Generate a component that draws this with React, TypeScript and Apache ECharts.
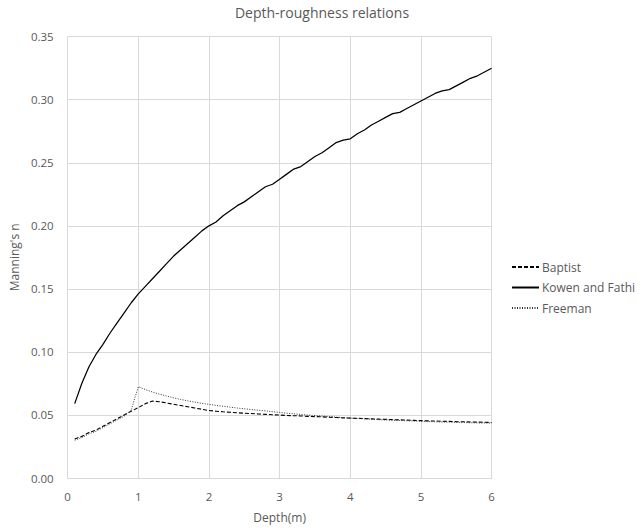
import React, { useEffect, useRef } from "react";
import * as echarts from "echarts";

const depths: number[] = [
  0.1, 0.2, 0.3, 0.4, 0.5, 0.6, 0.7, 0.8, 0.9, 1.0,
  1.1, 1.2, 1.3, 1.4, 1.5, 1.6, 1.7, 1.8, 1.9, 2.0,
  2.1, 2.2, 2.3, 2.4, 2.5, 2.6, 2.7, 2.8, 2.9, 3.0,
  3.1, 3.2, 3.3, 3.4, 3.5, 3.6, 3.7, 3.8, 3.9, 4.0,
  4.1, 4.2, 4.3, 4.4, 4.5, 4.6, 4.7, 4.8, 4.9, 5.0,
  5.1, 5.2, 5.3, 5.4, 5.5, 5.6, 5.7, 5.8, 5.9, 6.0,
];

const baptist: number[] = [
  0.031, 0.033, 0.036, 0.038, 0.041, 0.044, 0.047, 0.050, 0.053, 0.0558,
  0.059, 0.061, 0.0605, 0.0595, 0.0585, 0.0575, 0.0565, 0.0555, 0.0545, 0.0535,
  0.0530, 0.0525, 0.0521, 0.0517, 0.0514, 0.0511, 0.0508, 0.0505, 0.0502, 0.0499,
  0.0496, 0.0494, 0.0492, 0.0489, 0.0487, 0.0485, 0.0482, 0.0480, 0.0477, 0.0475,
  0.0473, 0.0471, 0.0469, 0.0467, 0.0465, 0.0463, 0.0461, 0.0459, 0.0457, 0.0455,
  0.0453, 0.0452, 0.0450, 0.0449, 0.0447, 0.0446, 0.0444, 0.0443, 0.0442, 0.0440,
];

const kowenFathi: number[] = [
  0.059, 0.075, 0.088, 0.098, 0.106, 0.115, 0.123, 0.131, 0.139, 0.146,
  0.152, 0.158, 0.164, 0.170, 0.176, 0.181, 0.186, 0.191, 0.196, 0.200,
  0.203, 0.208, 0.212, 0.216, 0.219, 0.223, 0.227, 0.231, 0.233, 0.237,
  0.241, 0.245, 0.247, 0.251, 0.255, 0.258, 0.262, 0.266, 0.268, 0.269,
  0.273, 0.276, 0.280, 0.283, 0.286, 0.289, 0.290, 0.293, 0.296, 0.299,
  0.302, 0.305, 0.307, 0.308, 0.311, 0.314, 0.317, 0.319, 0.322, 0.325,
];

const freeman: number[] = [
  0.030, 0.032, 0.035, 0.037, 0.040, 0.043, 0.046, 0.049, 0.054, 0.0724,
  0.0702, 0.0682, 0.0665, 0.0650, 0.0636, 0.0623, 0.0612, 0.0602, 0.0592, 0.0584,
  0.0576, 0.0569, 0.0562, 0.0555, 0.0549, 0.0543, 0.0537, 0.0532, 0.0526, 0.0520,
  0.0514, 0.0509, 0.0504, 0.0499, 0.0495, 0.0491, 0.0487, 0.0483, 0.0479, 0.0475,
  0.0472, 0.0469, 0.0466, 0.0463, 0.0460, 0.0458, 0.0456, 0.0454, 0.0452, 0.0450,
  0.0448, 0.0446, 0.0444, 0.0443, 0.0441, 0.0440, 0.0438, 0.0437, 0.0436, 0.0435,
];

const seriesNames = ["Baptist", "Kowen and Fathi", "Freeman"];

const FONT = "'Open Sans', 'Noto Sans', sans-serif";
const TEXT = "#595959";
const GRID = "#d9d9d9";

function pair(vals: number[]): number[][] {
  return depths.map((d, i) => [d, vals[i]]);
}

export default function App() {
  const ref = useRef<HTMLDivElement>(null);
  useEffect(() => {
    if (!ref.current) return;
    const chart = echarts.init(ref.current, undefined, { renderer: "svg" });
    chart.setOption({
      animation: false,
      backgroundColor: "#ffffff",
      textStyle: { fontFamily: FONT },
      title: {
        text: "Depth-roughness relations",
        left: "center",
        top: 0,
        textStyle: { fontFamily: FONT, fontSize: 14, fontWeight: "normal", color: TEXT },
      },
      legend: {
        orient: "vertical",
        left: 506,
        top: 256,
        itemWidth: 27,
        itemHeight: 10,
        itemGap: 8.5,
        itemStyle: { opacity: 0 },
        textStyle: { fontFamily: FONT, fontSize: 12, color: TEXT, padding: [0, 0, 0, -2] },
        data: seriesNames,
      },
      grid: { left: 67.6, right: 152.4, top: 36.7, bottom: 48, containLabel: false },
      xAxis: {
        type: "value",
        min: 0,
        max: 6,
        interval: 1,
        name: "Depth(m)",
        nameLocation: "middle",
        nameGap: 33,
        nameTextStyle: { fontFamily: FONT, fontSize: 12, color: TEXT },
        axisLine: { show: true, lineStyle: { color: GRID, width: 1 } },
        axisTick: { show: false },
        axisLabel: { fontFamily: FONT, fontSize: 11.5, color: TEXT, margin: 12 },
        splitLine: { show: true, lineStyle: { color: GRID, width: 1 } },
      },
      yAxis: {
        type: "value",
        min: 0,
        max: 0.35,
        interval: 0.05,
        name: "Manning's n",
        nameLocation: "middle",
        nameGap: 41,
        nameTextStyle: { fontFamily: FONT, fontSize: 12, color: TEXT },
        axisLine: { show: false },
        axisTick: { show: false },
        axisLabel: {
          fontFamily: FONT,
          fontSize: 11.5,
          color: TEXT,
          margin: 14,
          formatter: (v: number) => v.toFixed(2),
        },
        splitLine: { show: true, lineStyle: { color: GRID, width: 1 } },
      },
      series: [
        {
          name: seriesNames[0],
          type: "line",
          data: pair(baptist),
          showSymbol: false,
          symbol: "none",
          lineStyle: { color: "#000000", width: 1.1, type: [4, 2] },
          itemStyle: { color: "#000000" },
        },
        {
          name: seriesNames[1],
          type: "line",
          data: pair(kowenFathi),
          showSymbol: false,
          symbol: "none",
          lineStyle: { color: "#000000", width: 1.25, type: "solid" },
          itemStyle: { color: "#000000" },
        },
        {
          name: seriesNames[2],
          type: "line",
          data: pair(freeman),
          showSymbol: false,
          symbol: "none",
          lineStyle: { color: "#333333", width: 1, type: [1, 1.5] },
          itemStyle: { color: "#333333" },
        },
      ],
    });
    return () => chart.dispose();
  }, []);
  return <div ref={ref} style={{ width: 644, height: 528, position: "absolute", left: 0, top: 0 }} />;
}
